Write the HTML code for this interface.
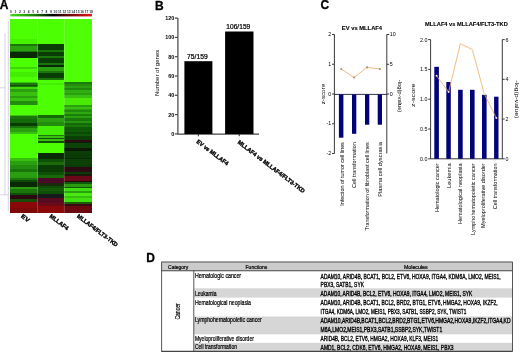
<!DOCTYPE html>
<html><head><meta charset="utf-8"><style>
html,body{margin:0;padding:0;background:#fff;}
body{width:520px;height:353px;overflow:hidden;position:relative;}
svg{position:absolute;left:0;top:0;font-family:"Liberation Sans",sans-serif;will-change:transform;}
.t{stroke:#000;stroke-width:0.22px;}
.t2{stroke:#000;stroke-width:0.12px;}
.tb{stroke:#000;stroke-width:0.35px;}
.tl{stroke:#000;stroke-width:0.3px;}
.tm{stroke:#000;stroke-width:0.32px;}
</style></head><body>
<svg width="520" height="353" viewBox="0 0 520 353">
<g shape-rendering="crispEdges">
<rect x="10.3" y="18.7" width="27.25" height="20" fill="#4cff02"/>
<rect x="10.3" y="38.7" width="27.25" height="5.6" fill="#46f200"/>
<rect x="10.3" y="44.3" width="27.25" height="1.7" fill="#1a760a"/>
<rect x="10.3" y="46" width="27.25" height="4.7" fill="#2aa010"/>
<rect x="10.3" y="50.7" width="27.25" height="1" fill="#1a760a"/>
<rect x="10.3" y="51.7" width="27.25" height="6" fill="#092805"/>
<rect x="10.3" y="57.7" width="27.25" height="9" fill="#4cff02"/>
<rect x="10.3" y="66.7" width="27.25" height="2.5" fill="#40d708"/>
<rect x="10.3" y="69.2" width="27.25" height="2.5" fill="#4cff02"/>
<rect x="10.3" y="71.7" width="27.25" height="5" fill="#44ee04"/>
<rect x="10.3" y="76.7" width="27.25" height="4.9" fill="#4cff02"/>
<rect x="10.3" y="81.6" width="27.25" height="1.7" fill="#38c010"/>
<rect x="10.3" y="83.3" width="27.25" height="2" fill="#1a760a"/>
<rect x="10.3" y="85.3" width="27.25" height="0.8" fill="#0e5008"/>
<rect x="10.3" y="86.1" width="27.25" height="0.5" fill="#1a760a"/>
<rect x="10.3" y="86.6" width="27.25" height="2.4" fill="#40d708"/>
<rect x="10.3" y="89" width="27.25" height="2.5" fill="#2aa010"/>
<rect x="10.3" y="91.5" width="27.25" height="4.5" fill="#38c010"/>
<rect x="10.3" y="96" width="27.25" height="2.1" fill="#2aa010"/>
<rect x="10.3" y="98.1" width="27.25" height="2.5" fill="#38c010"/>
<rect x="10.3" y="100.6" width="27.25" height="4.1" fill="#228c0e"/>
<rect x="10.3" y="104.7" width="27.25" height="10" fill="#4cff02"/>
<rect x="10.3" y="114.7" width="27.25" height="1.6" fill="#38c010"/>
<rect x="10.3" y="116.3" width="27.25" height="2.5" fill="#1a760a"/>
<rect x="10.3" y="118.8" width="27.25" height="4.1" fill="#136a08"/>
<rect x="10.3" y="122.9" width="27.25" height="3.3" fill="#0a3c06"/>
<rect x="10.3" y="126.2" width="27.25" height="1.7" fill="#1a760a"/>
<rect x="10.3" y="127.9" width="27.25" height="4.1" fill="#2aa010"/>
<rect x="10.3" y="132" width="27.25" height="1.7" fill="#38c010"/>
<rect x="10.3" y="133.7" width="27.25" height="24.7" fill="#4cff02"/>
<rect x="10.3" y="158.4" width="27.25" height="2.5" fill="#38c010"/>
<rect x="10.3" y="160.9" width="27.25" height="4.1" fill="#2aa010"/>
<rect x="10.3" y="165" width="27.25" height="4.2" fill="#228c0e"/>
<rect x="10.3" y="169.2" width="27.25" height="2.8" fill="#1a760a"/>
<rect x="10.3" y="172" width="27.25" height="4" fill="#2aa010"/>
<rect x="10.3" y="176" width="27.25" height="1.7" fill="#2a9a10"/>
<rect x="10.3" y="177.7" width="27.25" height="1.9" fill="#1a760a"/>
<rect x="10.3" y="179.6" width="27.25" height="2.2" fill="#0e4a08"/>
<rect x="10.3" y="181.8" width="27.25" height="4.9" fill="#092805"/>
<rect x="10.3" y="186.7" width="27.25" height="2.5" fill="#2a9a10"/>
<rect x="10.3" y="189.2" width="27.25" height="3.3" fill="#1a760a"/>
<rect x="10.3" y="192.5" width="27.25" height="2.5" fill="#0e5008"/>
<rect x="10.3" y="195" width="27.25" height="4.1" fill="#2a0a10"/>
<rect x="10.3" y="199.1" width="27.25" height="3.1" fill="#1a4a0a"/>
<rect x="10.3" y="202.2" width="27.25" height="5.8" fill="#8a080a"/>
<rect x="10.3" y="208" width="27.25" height="4.7" fill="#7c0808"/>
<rect x="37.55" y="18.7" width="26.8" height="25.6" fill="#4cff02"/>
<rect x="37.55" y="44.3" width="26.8" height="5.2" fill="#0a3c06"/>
<rect x="37.55" y="49.5" width="26.8" height="2" fill="#1a760a"/>
<rect x="37.55" y="51.5" width="26.8" height="4" fill="#0a3c06"/>
<rect x="37.55" y="55.5" width="26.8" height="2" fill="#1a760a"/>
<rect x="37.55" y="57.5" width="26.8" height="5.1" fill="#0a3c06"/>
<rect x="37.55" y="62.6" width="26.8" height="2.5" fill="#1a760a"/>
<rect x="37.55" y="65.1" width="26.8" height="1.6" fill="#092805"/>
<rect x="37.55" y="66.7" width="26.8" height="4.2" fill="#2aa010"/>
<rect x="37.55" y="70.9" width="26.8" height="1.6" fill="#1a760a"/>
<rect x="37.55" y="72.5" width="26.8" height="5" fill="#0a3c06"/>
<rect x="37.55" y="77.5" width="26.8" height="2.5" fill="#1a760a"/>
<rect x="37.55" y="80" width="26.8" height="3" fill="#4cff02"/>
<rect x="37.55" y="83" width="26.8" height="2" fill="#44ee04"/>
<rect x="37.55" y="85" width="26.8" height="29.7" fill="#4cff02"/>
<rect x="37.55" y="114.7" width="26.8" height="3.3" fill="#136a08"/>
<rect x="37.55" y="118" width="26.8" height="4.1" fill="#2aa010"/>
<rect x="37.55" y="122.1" width="26.8" height="4.1" fill="#228c0e"/>
<rect x="37.55" y="126.2" width="26.8" height="8.3" fill="#44ee04"/>
<rect x="37.55" y="134.5" width="26.8" height="1.6" fill="#1a760a"/>
<rect x="37.55" y="136.1" width="26.8" height="1.7" fill="#38c010"/>
<rect x="37.55" y="137.8" width="26.8" height="1.6" fill="#0e5008"/>
<rect x="37.55" y="139.4" width="26.8" height="1.7" fill="#38c010"/>
<rect x="37.55" y="141.1" width="26.8" height="1.6" fill="#0e5008"/>
<rect x="37.55" y="142.7" width="26.8" height="10" fill="#4cff02"/>
<rect x="37.55" y="152.7" width="26.8" height="6.6" fill="#092805"/>
<rect x="37.55" y="159.3" width="26.8" height="2.5" fill="#0e5008"/>
<rect x="37.55" y="161.8" width="26.8" height="3.2" fill="#1a6a0a"/>
<rect x="37.55" y="165" width="26.8" height="6.7" fill="#0a3c06"/>
<rect x="37.55" y="171.7" width="26.8" height="3.3" fill="#0e5008"/>
<rect x="37.55" y="175" width="26.8" height="3" fill="#1a6a0a"/>
<rect x="37.55" y="178" width="26.8" height="5.4" fill="#4a0a28"/>
<rect x="37.55" y="183.4" width="26.8" height="2.5" fill="#1a2a0a"/>
<rect x="37.55" y="185.9" width="26.8" height="2.5" fill="#0e5008"/>
<rect x="37.55" y="188.4" width="26.8" height="2.5" fill="#145a08"/>
<rect x="37.55" y="190.9" width="26.8" height="3.3" fill="#0e5008"/>
<rect x="37.55" y="194.2" width="26.8" height="4.1" fill="#161a1c"/>
<rect x="37.55" y="198.3" width="26.8" height="5" fill="#5a0a20"/>
<rect x="37.55" y="203.3" width="26.8" height="2.5" fill="#6a0a18"/>
<rect x="37.55" y="205.8" width="26.8" height="6.9" fill="#8a080a"/>
<rect x="64.35" y="18.7" width="27.15" height="62.9" fill="#4eff06"/>
<rect x="64.35" y="81.6" width="27.15" height="2.1" fill="#1a7a0a"/>
<rect x="64.35" y="83.7" width="27.15" height="2" fill="#22900e"/>
<rect x="64.35" y="85.7" width="27.15" height="2.5" fill="#2aa010"/>
<rect x="64.35" y="88.2" width="27.15" height="1.6" fill="#1f880c"/>
<rect x="64.35" y="89.8" width="27.15" height="3" fill="#30b010"/>
<rect x="64.35" y="92.8" width="27.15" height="2.6" fill="#28a010"/>
<rect x="64.35" y="95.4" width="27.15" height="2.6" fill="#3ac012"/>
<rect x="64.35" y="98" width="27.15" height="7" fill="#48ea06"/>
<rect x="64.35" y="105" width="27.15" height="1.6" fill="#2aa010"/>
<rect x="64.35" y="106.6" width="27.15" height="2.1" fill="#3ac012"/>
<rect x="64.35" y="108.7" width="27.15" height="1.3" fill="#2aa510"/>
<rect x="64.35" y="110" width="27.15" height="2.1" fill="#1f8a0c"/>
<rect x="64.35" y="112.1" width="27.15" height="2" fill="#30a810"/>
<rect x="64.35" y="114.1" width="27.15" height="2.1" fill="#1a800a"/>
<rect x="64.35" y="116.2" width="27.15" height="2" fill="#28a010"/>
<rect x="64.35" y="118.2" width="27.15" height="2.6" fill="#1a780a"/>
<rect x="64.35" y="120.8" width="27.15" height="2" fill="#249610"/>
<rect x="64.35" y="122.8" width="27.15" height="2.5" fill="#136a08"/>
<rect x="64.35" y="125.3" width="27.15" height="2.1" fill="#1a780a"/>
<rect x="64.35" y="127.4" width="27.15" height="4.1" fill="#0e5a08"/>
<rect x="64.35" y="131.5" width="27.15" height="2" fill="#0a4a06"/>
<rect x="64.35" y="133.5" width="27.15" height="2.5" fill="#0e5a08"/>
<rect x="64.35" y="136" width="27.15" height="3.6" fill="#0a4006"/>
<rect x="64.35" y="139.6" width="27.15" height="2.6" fill="#300a12"/>
<rect x="64.35" y="142.2" width="27.15" height="0.8" fill="#0a2008"/>
<rect x="64.35" y="143" width="27.15" height="4.7" fill="#0c4407"/>
<rect x="64.35" y="147.7" width="27.15" height="3" fill="#0c1a07"/>
<rect x="64.35" y="150.7" width="27.15" height="3.6" fill="#0b3e07"/>
<rect x="64.35" y="154.3" width="27.15" height="3.6" fill="#0a3a06"/>
<rect x="64.35" y="157.9" width="27.15" height="1.5" fill="#0a2a06"/>
<rect x="64.35" y="159.4" width="27.15" height="5.1" fill="#0b4007"/>
<rect x="64.35" y="164.5" width="27.15" height="2" fill="#0a3a06"/>
<rect x="64.35" y="166.5" width="27.15" height="4.1" fill="#2c0a14"/>
<rect x="64.35" y="170.6" width="27.15" height="1.3" fill="#2a0a14"/>
<rect x="64.35" y="171.9" width="27.15" height="1.8" fill="#0e3a08"/>
<rect x="64.35" y="173.7" width="27.15" height="2.5" fill="#1a1a0a"/>
<rect x="64.35" y="176.2" width="27.15" height="4.4" fill="#6a0a18"/>
<rect x="64.35" y="180.6" width="27.15" height="1.2" fill="#1a1008"/>
<rect x="64.35" y="181.8" width="27.15" height="2.5" fill="#0e5a08"/>
<rect x="64.35" y="184.3" width="27.15" height="2.5" fill="#2a9a10"/>
<rect x="64.35" y="186.8" width="27.15" height="1.3" fill="#0e5a08"/>
<rect x="64.35" y="188.1" width="27.15" height="3.1" fill="#40e010"/>
<rect x="64.35" y="191.2" width="27.15" height="1.9" fill="#28a010"/>
<rect x="64.35" y="193.1" width="27.15" height="3.1" fill="#48e810"/>
<rect x="64.35" y="196.2" width="27.15" height="1.9" fill="#38c010"/>
<rect x="64.35" y="198.1" width="27.15" height="3.7" fill="#40e010"/>
<rect x="64.35" y="201.8" width="27.15" height="2.5" fill="#1a5a0a"/>
<rect x="64.35" y="204.3" width="27.15" height="1.9" fill="#3a0a10"/>
<rect x="64.35" y="206.2" width="27.15" height="6.5" fill="#6a0a10"/>
</g>
<path d="M37.55 18.7 V212.7 M64.35 18.7 V212.7" stroke="#fff" stroke-opacity="0.45" stroke-width="0.5"/>
<defs><linearGradient id="cb" x1="0" x2="1" y1="0" y2="0"><stop offset="0" stop-color="#44e014"/><stop offset="0.3" stop-color="#1a7a0a"/><stop offset="0.52" stop-color="#000000"/><stop offset="0.72" stop-color="#6a0a0a"/><stop offset="1" stop-color="#e8141a"/></linearGradient></defs>
<rect x="10.4" y="13.9" width="81.6" height="2.5" fill="url(#cb)"/>
<text x="10.9" y="12.5" font-size="3.3" font-weight="bold" text-anchor="middle" fill="#2a2a3a">0</text>
<text x="15.35" y="12.5" font-size="3.3" font-weight="bold" text-anchor="middle" fill="#2a2a3a">1</text>
<text x="19.8" y="12.5" font-size="3.3" font-weight="bold" text-anchor="middle" fill="#2a2a3a">2</text>
<text x="24.25" y="12.5" font-size="3.3" font-weight="bold" text-anchor="middle" fill="#2a2a3a">3</text>
<text x="28.7" y="12.5" font-size="3.3" font-weight="bold" text-anchor="middle" fill="#2a2a3a">4</text>
<text x="33.15" y="12.5" font-size="3.3" font-weight="bold" text-anchor="middle" fill="#2a2a3a">5</text>
<text x="37.6" y="12.5" font-size="3.3" font-weight="bold" text-anchor="middle" fill="#2a2a3a">6</text>
<text x="42.05" y="12.5" font-size="3.3" font-weight="bold" text-anchor="middle" fill="#2a2a3a">7</text>
<text x="46.5" y="12.5" font-size="3.3" font-weight="bold" text-anchor="middle" fill="#2a2a3a">8</text>
<text x="50.95" y="12.5" font-size="3.3" font-weight="bold" text-anchor="middle" fill="#2a2a3a">9</text>
<text x="55.4" y="12.5" font-size="3.3" font-weight="bold" text-anchor="middle" fill="#2a2a3a">10</text>
<text x="59.85" y="12.5" font-size="3.3" font-weight="bold" text-anchor="middle" fill="#2a2a3a">11</text>
<text x="64.3" y="12.5" font-size="3.3" font-weight="bold" text-anchor="middle" fill="#2a2a3a">12</text>
<text x="68.75" y="12.5" font-size="3.3" font-weight="bold" text-anchor="middle" fill="#2a2a3a">13</text>
<text x="73.2" y="12.5" font-size="3.3" font-weight="bold" text-anchor="middle" fill="#2a2a3a">14</text>
<text x="77.65" y="12.5" font-size="3.3" font-weight="bold" text-anchor="middle" fill="#2a2a3a">15</text>
<text x="82.1" y="12.5" font-size="3.3" font-weight="bold" text-anchor="middle" fill="#2a2a3a">16</text>
<text x="86.55" y="12.5" font-size="3.3" font-weight="bold" text-anchor="middle" fill="#2a2a3a">17</text>
<text x="91" y="12.5" font-size="3.3" font-weight="bold" text-anchor="middle" fill="#2a2a3a">18</text>
<g stroke="#bcb6cc" stroke-width="0.6" fill="none"><path d="M8.3 21 V211"/><path d="M5 33 V195 M0 87.8 H5 M0 194.8 H8.3"/></g>
<text x="-0.2" y="8.6" font-size="12" font-weight="bold" class="tl">A</text>
<text x="155.1" y="9.5" font-size="12" font-weight="bold" class="tl">B</text>
<text x="320.6" y="8.8" font-size="12" font-weight="bold" class="tl">C</text>
<text x="146.2" y="261.5" font-size="12" font-weight="bold" class="tl">D</text>
<text transform="translate(20.6 216.9) rotate(37.3)" font-size="5.8" textLength="9" lengthAdjust="spacingAndGlyphs" font-weight="bold" class="tb">EV</text>
<text transform="translate(48.9 216.9) rotate(37.3)" font-size="5.8" textLength="22.3" lengthAdjust="spacingAndGlyphs" font-weight="bold" class="tb">MLLAF4</text>
<text transform="translate(76.5 216.9) rotate(37.3)" font-size="5.8" textLength="49.7" lengthAdjust="spacingAndGlyphs" font-weight="bold" class="tb">MLLAF4/FLT3-TKD</text>
<g stroke="#444" stroke-width="1.2" fill="none"><path d="M177.9 17.9 V134.1 H259"/>
<path d="M174.8 18.1 H177.7"/>
<path d="M174.8 37.4 H177.7"/>
<path d="M174.8 56.7 H177.7"/>
<path d="M174.8 76 H177.7"/>
<path d="M174.8 95.3 H177.7"/>
<path d="M174.8 114.6 H177.7"/>
<path d="M174.8 133.9 H177.7"/>
<path d="M198.4 134 V136.3 M239.3 134 V136.3"/>
</g>
<text x="174.3" y="20" font-size="5.4" text-anchor="end" font-weight="bold">120</text>
<text x="174.3" y="39.3" font-size="5.4" text-anchor="end" font-weight="bold">100</text>
<text x="174.3" y="58.6" font-size="5.4" text-anchor="end" font-weight="bold">80</text>
<text x="174.3" y="77.9" font-size="5.4" text-anchor="end" font-weight="bold">60</text>
<text x="174.3" y="97.2" font-size="5.4" text-anchor="end" font-weight="bold">40</text>
<text x="174.3" y="116.5" font-size="5.4" text-anchor="end" font-weight="bold">20</text>
<text x="174.3" y="135.8" font-size="5.4" text-anchor="end" font-weight="bold">0</text>
<rect x="184.4" y="61.2" width="28" height="72.8" fill="#000"/>
<rect x="225.1" y="31.5" width="28.4" height="102.5" fill="#000"/>
<text x="187.1" y="58.8" font-size="6.6" textLength="20.6" lengthAdjust="spacingAndGlyphs" class="t">75/159</text>
<text x="226.3" y="28.6" font-size="6.6" textLength="24" lengthAdjust="spacingAndGlyphs" class="t">106/159</text>
<text transform="translate(159.2 72.9) rotate(-90)" font-size="5.7" textLength="46.4" lengthAdjust="spacingAndGlyphs" text-anchor="middle">Number of genes</text>
<text transform="translate(196.1 142.5) rotate(37.3)" font-size="5.8" textLength="38.3" lengthAdjust="spacingAndGlyphs" font-weight="bold" class="tb">EV vs MLLAF4</text>
<text transform="translate(237.2 143.1) rotate(37.3)" font-size="5.8" textLength="82.6" lengthAdjust="spacingAndGlyphs" font-weight="bold" class="tb">MLLAF4 vs MLLAF4/FLT3-TKD</text>
<text x="341.8" y="29.8" font-size="5.8" textLength="40.3" lengthAdjust="spacingAndGlyphs" font-weight="bold" class="t2">EV vs MLLAF4</text>
<g stroke="#222" stroke-width="0.9" fill="none">
<path d="M334.4 34.4 V153.5 M386.8 34.4 V153.5"/>
<path d="M332 34.5 H334.4"/>
<path d="M332 64.25 H334.4"/>
<path d="M332 94 H334.4"/>
<path d="M332 123.75 H334.4"/>
<path d="M332 153.5 H334.4"/>
<path d="M386.8 34.5 H389.2"/>
<path d="M386.8 64.25 H389.2"/>
<path d="M386.8 94 H389.2"/>
</g>
<text x="331.3" y="36.1" font-size="5.3" text-anchor="end">2</text>
<text x="331.3" y="65.85" font-size="5.3" text-anchor="end">1</text>
<text x="331.3" y="95.6" font-size="5.3" text-anchor="end">0</text>
<text x="331.3" y="125.35" font-size="5.3" text-anchor="end">-1</text>
<text x="331.3" y="155.1" font-size="5.3" text-anchor="end">-2</text>
<text x="389.7" y="36.1" font-size="5.3">10</text>
<text x="389.7" y="65.85" font-size="5.3">5</text>
<text x="389.7" y="95.6" font-size="5.3">0</text>
<path d="M334.4 94.4 H386.8" stroke="#1a1a40" stroke-width="0.9"/>
<rect x="338.9" y="94.4" width="4.5" height="43.3" fill="#030379"/>
<rect x="352" y="94.4" width="4.3" height="39.4" fill="#030379"/>
<rect x="365" y="94.4" width="4.3" height="30.3" fill="#030379"/>
<rect x="377.7" y="94.4" width="4.3" height="30.3" fill="#030379"/>
<polyline points="341.2,69 354.1,77.5 367.1,67.4 379.8,69" fill="none" stroke="#eeaa66" stroke-width="0.8"/>
<circle cx="341.2" cy="69" r="1.05" fill="#b08a6a"/>
<circle cx="354.1" cy="77.5" r="1.05" fill="#b08a6a"/>
<circle cx="367.1" cy="67.4" r="1.05" fill="#b08a6a"/>
<circle cx="379.8" cy="69" r="1.05" fill="#b08a6a"/>
<text transform="translate(324.6 94.1) rotate(-90)" font-size="5.4" textLength="20.4" lengthAdjust="spacingAndGlyphs" text-anchor="middle">z-score</text>
<text transform="translate(398.3 96) rotate(90)" font-size="5.4" textLength="32.6" lengthAdjust="spacingAndGlyphs" text-anchor="middle">-log(p-value)</text>
<text transform="translate(343.9 142.2) rotate(-90)" font-size="5.2" textLength="63.6" lengthAdjust="spacingAndGlyphs" text-anchor="end">Infection of tumor cell lines</text>
<text transform="translate(356.3 142.2) rotate(-90)" font-size="5.2" textLength="45.8" lengthAdjust="spacingAndGlyphs" text-anchor="end">Cell transformation</text>
<text transform="translate(369.1 142.2) rotate(-90)" font-size="5.2" textLength="88.3" lengthAdjust="spacingAndGlyphs" text-anchor="end">Transformation of fibroblast cell lines</text>
<text transform="translate(381.8 142.2) rotate(-90)" font-size="5.2" textLength="54.5" lengthAdjust="spacingAndGlyphs" text-anchor="end">Plasma cell dyscrasia</text>
<text x="425.1" y="26.3" font-size="5.8" textLength="82.7" lengthAdjust="spacingAndGlyphs" font-weight="bold" class="t2">MLLAF4 vs MLLAF4/FLT3-TKD</text>
<g stroke="#222" stroke-width="0.9" fill="none">
<path d="M430.6 39.6 V158.8 H502.3 M502.3 39.6 V158.8"/>
<path d="M428.2 39.6 H430.6"/>
<path d="M428.2 69.4 H430.6"/>
<path d="M428.2 99.2 H430.6"/>
<path d="M428.2 129 H430.6"/>
<path d="M428.2 158.8 H430.6"/>
<path d="M502.3 39.6 H504.7"/>
<path d="M502.3 79.33 H504.7"/>
<path d="M502.3 119.06 H504.7"/>
<path d="M502.3 158.79 H504.7"/>
</g>
<text x="427.4" y="41.5" font-size="5.3" text-anchor="end">2.0</text>
<text x="427.4" y="71.3" font-size="5.3" text-anchor="end">1.5</text>
<text x="427.4" y="101.1" font-size="5.3" text-anchor="end">1.0</text>
<text x="427.4" y="130.9" font-size="5.3" text-anchor="end">0.5</text>
<text x="427.4" y="160.7" font-size="5.3" text-anchor="end">0.0</text>
<text x="505.6" y="41.5" font-size="5.3">6</text>
<text x="505.6" y="81.23" font-size="5.3">4</text>
<text x="505.6" y="120.96" font-size="5.3">2</text>
<text x="505.6" y="160.69" font-size="5.3">0</text>
<rect x="434.3" y="66.8" width="4.6" height="92" fill="#030379"/>
<rect x="446.3" y="82" width="4.5" height="76.8" fill="#030379"/>
<rect x="458.1" y="89.8" width="4.6" height="69" fill="#030379"/>
<rect x="470" y="89.8" width="4.6" height="69" fill="#030379"/>
<rect x="482" y="94.8" width="4.6" height="64" fill="#030379"/>
<rect x="494.1" y="96.7" width="4.4" height="62.1" fill="#030379"/>
<polyline points="436.6,75.8 448.6,92 460.4,43.7 472.3,49.6 484.3,93.9 496.3,117.9" fill="none" stroke="#eeaa66" stroke-width="0.8"/>
<circle cx="436.6" cy="75.8" r="1" fill="#f8e0d0"/>
<circle cx="448.6" cy="92" r="1" fill="#f8e0d0"/>
<circle cx="460.4" cy="43.7" r="1" fill="#f8e0d0"/>
<circle cx="472.3" cy="49.6" r="1" fill="#f8e0d0"/>
<circle cx="484.3" cy="93.9" r="1" fill="#f8e0d0"/>
<circle cx="496.3" cy="117.9" r="1" fill="#f8e0d0"/>
<text transform="translate(414.5 95.2) rotate(-90)" font-size="5.4" textLength="23.4" lengthAdjust="spacingAndGlyphs" text-anchor="middle">z-score</text>
<text transform="translate(514.6 99.3) rotate(90)" font-size="5.4" textLength="38.2" lengthAdjust="spacingAndGlyphs" text-anchor="middle">-log(p-value)</text>
<text transform="translate(438.8 163.4) rotate(-90)" font-size="5.2" textLength="48.6" lengthAdjust="spacingAndGlyphs" text-anchor="end">Hematologic cancer</text>
<text transform="translate(450.5 163.4) rotate(-90)" font-size="5.2" textLength="24.6" lengthAdjust="spacingAndGlyphs" text-anchor="end">Leukemia</text>
<text transform="translate(462.2 163.4) rotate(-90)" font-size="5.2" textLength="60.6" lengthAdjust="spacingAndGlyphs" text-anchor="end">Hematological neoplasia</text>
<text transform="translate(474.5 163.4) rotate(-90)" font-size="5.2" textLength="71.5" lengthAdjust="spacingAndGlyphs" text-anchor="end">Lymphohematopoietic cancer</text>
<text transform="translate(484.7 163.4) rotate(-90)" font-size="5.2" textLength="64.5" lengthAdjust="spacingAndGlyphs" text-anchor="end">Myeloproliferative disorder</text>
<text transform="translate(497.4 163.4) rotate(-90)" font-size="5.2" textLength="45.8" lengthAdjust="spacingAndGlyphs" text-anchor="end">Cell transformation</text>
<rect x="161.4" y="262.4" width="351.2" height="8.2" fill="#cbcbcb"/>
<text class="t" x="194.9" y="277.9" font-size="6.5" textLength="46.2" lengthAdjust="spacingAndGlyphs">Hematologic cancer</text>
<text class="tm" x="320.6" y="278.7" font-size="6.4" textLength="180" lengthAdjust="spacingAndGlyphs">ADAM10, ARID4B, BCAT1, BCL2, ETV6, HOXA9, ITGA4, KDM6A, LMO2, MEIS1,</text>
<text class="tm" x="320.6" y="287.3" font-size="6.4" textLength="43.4" lengthAdjust="spacingAndGlyphs">PBX3, SATB1, SYK</text>
<rect x="193.8" y="288.3" width="318.8" height="9.3" fill="#d6d6d6"/>
<text class="t" x="194.9" y="295.5" font-size="6.5" textLength="21.6" lengthAdjust="spacingAndGlyphs">Leukamia</text>
<text class="tm" x="320.6" y="296.1" font-size="6.4" textLength="151.7" lengthAdjust="spacingAndGlyphs">ADAM10, ARID4B, BCL2, ETV6, HOXA9, ITGA4, LMO2, MEIS1, SYK</text>
<text class="t" x="194.9" y="304.9" font-size="6.5" textLength="56.1" lengthAdjust="spacingAndGlyphs">Hematological neoplasia</text>
<text class="tm" x="320.6" y="304.9" font-size="6.4" textLength="177" lengthAdjust="spacingAndGlyphs">ADAM10, ARID4B, BCAT1, BCL2, BRD2, BTG1, ETV6, HMGA2, HOXA9, IKZF2,</text>
<text class="tm" x="320.6" y="314.3" font-size="6.4" textLength="145.7" lengthAdjust="spacingAndGlyphs">ITGA4, KDM6A, LMO2, MEIS1, PBX3, SATB1, SSBP2, SYK, TWIST1</text>
<rect x="193.8" y="316.5" width="318.8" height="17.8" fill="#d6d6d6"/>
<text class="t" x="194.9" y="321.8" font-size="6.5" textLength="66.9" lengthAdjust="spacingAndGlyphs">Lymphohematopoietic cancer</text>
<text class="tm" x="320.6" y="323.1" font-size="6.4" textLength="189.9" lengthAdjust="spacingAndGlyphs">ADAM10,ARID4B,BCAT1,BCL2,BRD2,BTG1,ETV6,HMGA2,HOXA9,IKZF2,ITGA4,KD</text>
<text class="tm" x="320.6" y="332" font-size="6.4" textLength="121.6" lengthAdjust="spacingAndGlyphs">M6A,LMO2,MEIS1,PBX3,SATB1,SSBP2,SYK,TWIST1</text>
<text class="t" x="194.9" y="340.6" font-size="6.5" textLength="59" lengthAdjust="spacingAndGlyphs">Myeloproliferative disorder</text>
<text class="tm" x="320.6" y="340.9" font-size="6.4" textLength="117.5" lengthAdjust="spacingAndGlyphs">ARID4B, BCL2, ETV6, HMGA2, HOXA9, KLF3, MEIS1</text>
<rect x="193.8" y="342.8" width="318.8" height="8.2" fill="#d6d6d6"/>
<text class="t" x="194.9" y="349.1" font-size="6.5" textLength="42.1" lengthAdjust="spacingAndGlyphs">Cell transformation</text>
<text class="tm" x="320.6" y="349.5" font-size="6.4" textLength="132.9" lengthAdjust="spacingAndGlyphs">AMD1, BCL2, CDK6, ETV6, HMGA2, HOXA9, MEIS1, PBX3</text>
<text class="t" x="168.1" y="268.7" font-size="5.9" textLength="20.1" lengthAdjust="spacingAndGlyphs">Category</text>
<text class="t" x="245.5" y="268.7" font-size="5.9" textLength="21.9" lengthAdjust="spacingAndGlyphs">Functions</text>
<text class="t" x="403.9" y="268.6" font-size="5.9" textLength="23.8" lengthAdjust="spacingAndGlyphs">Molecules</text>
<text class="t" transform="translate(179.8 303.4) rotate(-90)" font-size="6.6" text-anchor="end" textLength="16.2" lengthAdjust="spacingAndGlyphs">Cancer</text>
<g stroke="#444" fill="none">
<path d="M161.4 262 H512.6" stroke-width="1.2"/>
<path d="M161.4 270.7 H512.6" stroke-width="1.1"/>
<path d="M161.4 351.3 H512.6" stroke-width="1.2"/>
<path d="M161.6 262 V351.4 M512.5 262 V351.4" stroke-width="0.9"/>
<path d="M193.8 270.6 V351.4" stroke-width="0.9"/>
</g>
</svg>
</body></html>
